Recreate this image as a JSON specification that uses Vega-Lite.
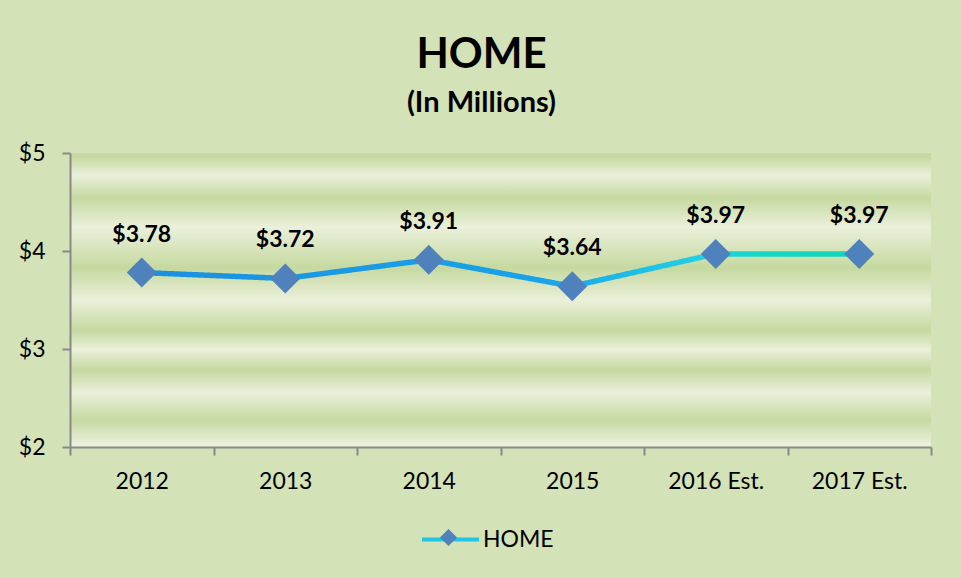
{
  "$schema": "https://vega.github.io/schema/vega-lite/v6.json",
  "width": 861,
  "height": 294,
  "autosize": {"type": "none"},
  "padding": {"left": 70, "top": 153, "right": 30, "bottom": 131},
  "background": "#D4E2B8",
  "title": {
    "text": "HOME",
    "subtitle": "(In Millions)",
    "anchor": "middle",
    "dx": -19,
    "font": "Lato",
    "subtitleFont": "Lato",
    "fontSize": 42,
    "subtitleFontSize": 29,
    "fontWeight": "bold",
    "subtitleFontWeight": "bold",
    "color": "#000000",
    "subtitleColor": "#000000",
    "offset": 23,
    "subtitlePadding": 12
  },
  "data": {
    "values": [
      {"year": "2012", "value": 3.78, "series": "HOME"},
      {"year": "2013", "value": 3.72, "series": "HOME"},
      {"year": "2014", "value": 3.91, "series": "HOME"},
      {"year": "2015", "value": 3.64, "series": "HOME"},
      {"year": "2016 Est.", "value": 3.97, "series": "HOME"},
      {"year": "2017 Est.", "value": 3.97, "series": "HOME"}
    ]
  },
  "encoding": {
    "x": {
      "field": "year",
      "type": "nominal",
      "sort": null,
      "scale": {"paddingInner": 0, "paddingOuter": 0},
      "axis": {
        "title": null,
        "tickBand": "extent",
        "labelAngle": 0,
        "domainColor": "#898989",
        "domainWidth": 2,
        "tickColor": "#898989",
        "tickWidth": 2,
        "tickSize": 8,
        "labelFont": "Lato",
        "labelFontSize": 23,
        "labelColor": "#000000",
        "labelPadding": 15,
        "grid": false
      }
    },
    "y": {
      "field": "value",
      "type": "quantitative",
      "scale": {"domain": [2, 5], "nice": false, "zero": false},
      "axis": {
        "title": null,
        "values": [2, 3, 4, 5],
        "labelExpr": "'$' + datum.value",
        "domainColor": "#898989",
        "domainWidth": 2,
        "tickColor": "#898989",
        "tickWidth": 2,
        "tickSize": 8,
        "labelFont": "Lato",
        "labelFontSize": 23,
        "labelColor": "#000000",
        "labelPadding": 17,
        "grid": false
      }
    }
  },
  "layer": [
    {
      "mark": {
        "type": "line",
        "strokeWidth": 5.5,
        "stroke": {
          "gradient": "linear",
          "x1": 0, "y1": 0, "x2": 1, "y2": 0,
          "stops": [
            {"offset": 0, "color": "#1a90e0"},
            {"offset": 0.55, "color": "#1aa2e8"},
            {"offset": 0.78, "color": "#22d0e4"},
            {"offset": 0.86, "color": "#14d8c8"},
            {"offset": 1, "color": "#10d6b6"}
          ]
        }
      },
      "encoding": {
        "strokeDash": {
          "datum": "HOME",
          "scale": {"range": [[1, 0]]},
          "legend": {
            "title": null,
            "orient": "none",
            "legendX": 350,
            "legendY": 356,
            "padding": 0,
            "symbolType": "stroke",
            "symbolSize": 3249,
            "symbolStrokeWidth": 4,
            "symbolStrokeColor": "#22c6e2",
            "labelFont": "Lato",
            "labelFontSize": 23,
            "labelColor": "#000000",
            "labelOffset": 2,
            "encode": {
              "symbols": {"update": {"stroke": {"value": "#22c6e2"}, "strokeWidth": {"value": 4}, "strokeDash": {"value": [1, 0]}}}
            }
          }
        }
      }
    },
    {
      "mark": {"type": "point", "filled": true, "color": "#4F81BD", "opacity": 1, "size": 10000, "strokeWidth": 0},
      "encoding": {
        "shape": {
          "field": "series",
          "type": "nominal",
          "scale": {"range": ["M-0.3,0L0,-0.3L0.3,0L0,0.3Z"]},
          "legend": {
            "title": null,
            "orient": "none",
            "legendX": 350,
            "legendY": 356,
            "padding": 0,
            "symbolSize": 3249,
            "symbolFillColor": "#4F81BD",
            "symbolStrokeWidth": 0,
            "labelExpr": "''",
            "labelFontSize": 23,
            "labelOffset": 2,
            "encode": {
              "symbols": {"update": {"fill": {"value": "#4F81BD"}, "opacity": {"value": 1}, "strokeWidth": {"value": 0}}}
            }
          }
        }
      }
    },
    {
      "mark": {"type": "text", "font": "Lato", "fontSize": 23, "fontWeight": "bold", "color": "#000000", "dy": -31, "baseline": "alphabetic"},
      "encoding": {
        "text": {"field": "value", "type": "quantitative", "format": "$.2f"}
      }
    }
  ],
  "config": {
    "view": {
      "stroke": null,
      "fill": {
        "gradient": "linear",
        "x1": 0, "y1": 0, "x2": 0, "y2": 1,
        "stops": [
          {"offset": 0.014, "color": "#C6D9A0"},
          {"offset": 0.075, "color": "#EAF0DA"},
          {"offset": 0.153, "color": "#C6D9A0"},
          {"offset": 0.252, "color": "#EAF0DA"},
          {"offset": 0.391, "color": "#C6D9A0"},
          {"offset": 0.5, "color": "#EAF0DA"},
          {"offset": 0.602, "color": "#C6D9A0"},
          {"offset": 0.67, "color": "#EAF0DA"},
          {"offset": 0.738, "color": "#C6D9A0"},
          {"offset": 0.816, "color": "#EAF0DA"},
          {"offset": 0.908, "color": "#C6D9A0"},
          {"offset": 0.986, "color": "#EAF0DA"}
        ]
      }
    }
  }
}
